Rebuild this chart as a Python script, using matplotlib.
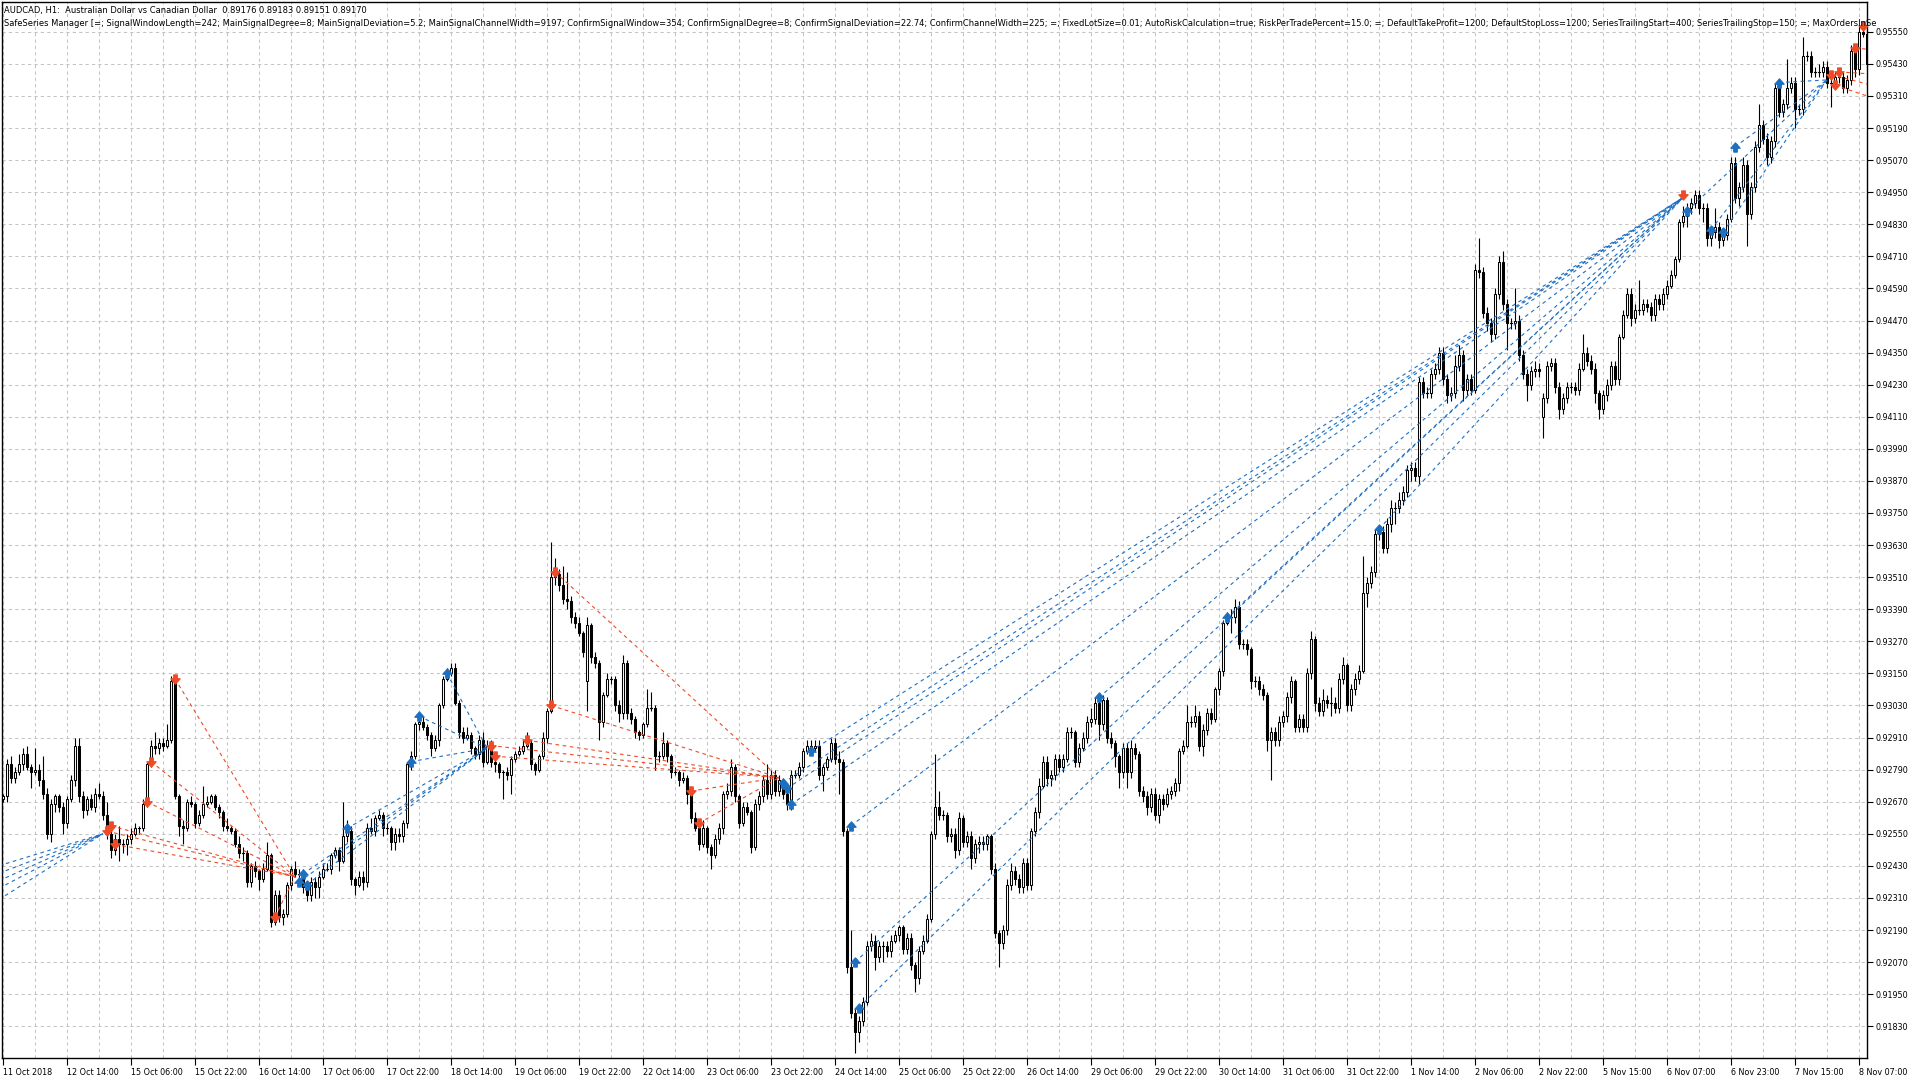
import matplotlib
matplotlib.use("Agg")
import matplotlib.pyplot as plt
from matplotlib.path import Path
from matplotlib.markers import MarkerStyle
from matplotlib import font_manager

# ---------------- text ----------------
symbol_line = "AUDCAD, H1:  Australian Dollar vs Canadian Dollar  0.89176 0.89183 0.89151 0.89170"
expert_line = ("SafeSeries Manager [=; SignalWindowLength=242; MainSignalDegree=8; MainSignalDeviation=5.2; "
               "MainSignalChannelWidth=9197; ConfirmSignalWindow=354; ConfirmSignalDegree=8; "
               "ConfirmSignalDeviation=22.74; ConfirmChannelWidth=225; =; FixedLotSize=0.01; "
               "AutoRiskCalculation=true; RiskPerTradePercent=15.0; =; DefaultTakeProfit=1200; "
               "DefaultStopLoss=1200; SeriesTrailingStart=400; SeriesTrailingStop=150; =; MaxOrdersInSe")

time_labels = ["11 Oct 2018", "12 Oct 14:00", "15 Oct 06:00", "15 Oct 22:00", "16 Oct 14:00",
               "17 Oct 06:00", "17 Oct 22:00", "18 Oct 14:00", "19 Oct 06:00", "19 Oct 22:00",
               "22 Oct 14:00", "23 Oct 06:00", "23 Oct 22:00", "24 Oct 14:00", "25 Oct 06:00",
               "25 Oct 22:00", "26 Oct 14:00", "29 Oct 06:00", "29 Oct 22:00", "30 Oct 14:00",
               "31 Oct 06:00", "31 Oct 22:00", "1 Nov 14:00", "2 Nov 06:00", "2 Nov 22:00",
               "5 Nov 15:00", "6 Nov 07:00", "6 Nov 23:00", "7 Nov 15:00", "8 Nov 07:00"]
time_label_bars = [0, 16, 32, 48, 64, 80, 96, 112, 128, 144, 160, 176, 192, 208, 224,
                   240, 256, 272, 288, 304, 320, 336, 352, 368, 384, 400, 416, 432, 448, 464]

price_labels = ["0.91830", "0.91950", "0.92070", "0.92190", "0.92310", "0.92430", "0.92550", "0.92670",
                "0.92790", "0.92910", "0.93030", "0.93150", "0.93270", "0.93390", "0.93510", "0.93630",
                "0.93750", "0.93870", "0.93990", "0.94110", "0.94230", "0.94350", "0.94470", "0.94590",
                "0.94710", "0.94830", "0.94950", "0.95070", "0.95190", "0.95310", "0.95430", "0.95550"]

# ---------------- candles (prices in pips, 9269 = 0.9269) ----------------
first_open = 9268
weekend_opens = {146: 9312, 385: 9411}
close_pips = [
    9269, 9281, 9276, 9278, 9281, 9285, 9280, 9278, 9279, 9275,
    9270, 9255, 9266, 9269, 9265, 9259, 9268, 9275, 9288, 9269,
    9264, 9268, 9265, 9270, 9269, 9262, 9255, 9249, 9253, 9251,
    9251, 9253, 9255, 9257, 9257, 9266, 9281, 9288, 9287, 9289,
    9288, 9290, 9312, 9269, 9258, 9257, 9267, 9266, 9259, 9262,
    9266, 9267, 9269, 9265, 9263, 9258, 9257, 9256, 9251, 9248,
    9248, 9237, 9243, 9241, 9238, 9242, 9247, 9222, 9232, 9224,
    9225, 9236, 9242, 9240, 9240, 9235, 9232, 9237, 9235, 9239,
    9242, 9242, 9247, 9249, 9245, 9254, 9256, 9238, 9236, 9239,
    9237, 9257, 9256, 9261, 9262, 9257, 9257, 9252, 9255, 9254,
    9259, 9281, 9284, 9296, 9297, 9295, 9292, 9287, 9290, 9303,
    9313, 9315, 9317, 9304, 9293, 9291, 9292, 9287, 9285, 9290,
    9282, 9288, 9282, 9281, 9278, 9278, 9277, 9283, 9285, 9286,
    9288, 9289, 9281, 9279, 9284, 9291, 9301, 9351, 9352, 9348,
    9343, 9342, 9336, 9334, 9330, 9323, 9333, 9321, 9319, 9297,
    9307, 9313, 9313, 9303, 9300, 9319, 9300, 9298, 9293, 9292,
    9296, 9302, 9302, 9284, 9284, 9289, 9284, 9278, 9278, 9275,
    9276, 9270, 9261, 9257, 9251, 9257, 9250, 9247, 9253, 9257,
    9270, 9271, 9280, 9269, 9259, 9265, 9263, 9250, 9266, 9269,
    9275, 9270, 9277, 9271, 9275, 9270, 9266, 9277, 9277, 9280,
    9286, 9288, 9287, 9288, 9277, 9280, 9283, 9289, 9283, 9282,
    9256, 9205, 9188, 9181, 9185, 9192, 9213, 9215, 9209, 9213,
    9213, 9211, 9215, 9217, 9220, 9212, 9216, 9206, 9201, 9211,
    9215, 9223, 9255, 9265, 9262, 9262, 9254, 9255, 9249, 9261,
    9252, 9254, 9246, 9251, 9252, 9251, 9254, 9242, 9218, 9214,
    9219, 9236, 9241, 9238, 9235, 9244, 9236, 9256, 9263, 9273,
    9282, 9276, 9277, 9283, 9280, 9283, 9293, 9293, 9282, 9287,
    9291, 9297, 9298, 9304, 9296, 9305, 9291, 9289, 9284, 9278,
    9287, 9278, 9287, 9285, 9271, 9269, 9265, 9270, 9262, 9268,
    9266, 9270, 9271, 9274, 9286, 9288, 9297, 9297, 9299, 9288,
    9294, 9300, 9298, 9309, 9316, 9334, 9336, 9336, 9340, 9326,
    9326, 9324, 9312, 9312, 9309, 9307, 9290, 9293, 9290, 9297,
    9299, 9306, 9312, 9295, 9298, 9295, 9315, 9328, 9304, 9301,
    9305, 9304, 9304, 9302, 9313, 9318, 9303, 9309, 9313, 9316,
    9345, 9349, 9353, 9367, 9368, 9362, 9371, 9377, 9377, 9380,
    9383, 9391, 9392, 9389, 9424, 9420, 9420, 9427, 9429, 9435,
    9425, 9419, 9420, 9430, 9434, 9421, 9425, 9421, 9466, 9465,
    9450, 9446, 9442, 9457, 9469, 9453, 9446, 9446, 9447, 9434,
    9427, 9423, 9428, 9429, 9428, 9418, 9430, 9431, 9422, 9414,
    9418, 9422, 9422, 9421, 9429, 9435, 9432, 9429, 9420, 9414,
    9419, 9423, 9430, 9425, 9441, 9449, 9457, 9448, 9451, 9451,
    9453, 9452, 9449, 9455, 9453, 9457, 9460, 9464, 9470, 9484,
    9486, 9489, 9491, 9494, 9489, 9489, 9478, 9480, 9482, 9477,
    9479, 9485, 9506, 9493, 9497, 9505, 9487, 9497, 9512, 9520,
    9515, 9508, 9514, 9534, 9525, 9528, 9534, 9536, 9526, 9526,
    9546, 9546, 9540, 9540, 9540, 9542, 9536, 9536, 9538, 9538,
    9534, 9537, 9548, 9541, 9555, 9554, 9543]
upper_wick = [
    1, 2, 3, 2, 4, 2, 3, 1, 8, 2,  9, 2, 2, 1, 1, 2, 1, 2, 3, 3,
    2, 1, 2, 2, 4, 2, 5, 3, 2, 5,  2, 2, 2, 2, 1, 2, 1, 2, 5, 2,
    2, 6, 2, 2, 1, 2, 1, 2, 1, 2,  7, 2, 1, 1, 1, 1, 3, 1, 1, 3,
    2, 1, 1, 2, 1, 2, 5, 1, 2, 2,  2, 1, 1, 3, 2, 2, 2, 2, 2, 2,
    2, 2, 1, 1, 1, 13, 4, 2, 1, 2, 2, 2, 4, 1, 2, 1, 2, 1, 2, 2,
    1, 1, 2, 1, 3, 2, 1, 1, 2, 1,  1, 2, 2, 2, 1, 2, 3, 1, 1, 2,
    3, 2, 2, 2, 1, 1, 2, 1, 1, 2,  2, 4, 1, 1, 1, 2, 1, 13, 6, 2,
    7, 10, 2, 2, 2, 1, 3, 1, 2, 1, 1, 2, 1, 1, 2, 3, 1, 2, 1, 1,
    1, 7, 6, 1, 2, 4, 1, 1, 2, 1,  2, 1, 1, 2, 1, 3, 1, 1, 2, 2,
    1, 3, 3, 1, 1, 2, 2, 1, 2, 2,  2, 6, 2, 2, 2, 1, 1, 2, 2, 2,
    1, 2, 2, 2, 2, 1, 1, 2, 2, 3,  1, 1, 14, 2, 2, 2, 2, 3, 2, 2,
    2, 2, 2, 2, 1, 1, 2, 2, 1, 2,  2, 2, 1, 20, 6, 2, 1, 2, 2, 2,
    1, 2, 2, 2, 2, 2, 1, 1, 2, 1,  2, 2, 3, 2, 2, 2, 2, 1, 2, 3,
    2, 2, 2, 2, 2, 2, 2, 2, 1, 2,  2, 2, 4, 2, 2, 2, 1, 2, 1, 1,
    2, 2, 3, 2, 1, 2, 2, 2, 2, 2,  2, 2, 2, 2, 1, 2, 6, 2, 4, 2,
    2, 2, 2, 1, 1, 1, 2, 3, 3, 2,  2, 2, 1, 2, 2, 2, 1, 2, 2, 2,
    2, 2, 2, 1, 2, 2, 2, 3, 1, 2,  4, 2, 6, 2, 2, 3, 1, 2, 2, 2,
    14, 2, 2, 2, 2, 2, 2, 3, 2, 3, 2, 2, 2, 2, 2, 2, 2, 2, 2, 2,
    2, 2, 2, 4, 4, 2, 2, 2, 2, 12, 2, 2, 2, 2, 2, 4, 2, 2, 12, 2,
    2, 2, 2, 3, 2, 2, 2, 2, 2, 2,  2, 2, 2, 2, 2, 7, 2, 2, 2, 1,
    2, 2, 2, 2, 1, 2, 2, 2, 2, 11, 2, 2, 2, 2, 2, 2, 2, 2, 1, 1,
    4, 2, 2, 2, 2, 2, 2, 2, 7, 2,  2, 2, 2, 2, 2, 3, 2, 2, 2, 8,
    2, 2, 2, 2, 2, 2, 11, 2, 2, 2, 7, 2, 2, 2, 3, 2, 2, 2, 2, 3,
    2, 2, 2, 2, 2, 3, 2]
lower_wick = [
    1, 2, 2, 2, 1, 2, 1, 6, 1, 2,  2, 2, 3, 3, 2, 4, 2, 1, 2, 2,
    3, 2, 1, 2, 1, 2, 2, 3, 2, 6,  3, 4, 2, 1, 2, 1, 1, 1, 2, 2,
    2, 1, 1, 1, 4, 6, 1, 1, 2, 1,  1, 1, 1, 1, 2, 2, 1, 1, 1, 2,
    3, 2, 2, 2, 4, 1, 1, 2, 1, 2,  3, 1, 2, 1, 4, 2, 2, 2, 4, 4,
    1, 1, 2, 1, 4, 1, 2, 2, 4, 1,  3, 2, 1, 2, 1, 3, 2, 3, 3, 2,
    2, 2, 2, 1, 2, 1, 2, 3, 1, 2,  1, 1, 1, 1, 2, 2, 1, 2, 2, 2,
    2, 1, 2, 3, 2, 10, 2, 7, 1, 1, 1, 1, 2, 2, 1, 1, 2, 1, 3, 2,
    2, 3, 2, 2, 1, 2, 11, 2, 2, 7, 2, 1, 2, 2, 3, 2, 2, 2, 2, 2,
    1, 1, 1, 5, 2, 1, 2, 2, 1, 2,  1, 4, 2, 1, 2, 1, 2, 5, 1, 2,
    2, 2, 2, 2, 2, 1, 1, 2, 1, 2,  2, 2, 2, 2, 2, 2, 2, 2, 1, 1,
    2, 1, 1, 1, 2, 6, 1, 1, 2, 12, 2, 2, 2, 8, 4, 2, 1, 2, 5, 2,
    6, 2, 2, 1, 2, 2, 2, 2, 5, 2,  1, 1, 1, 2, 2, 2, 2, 2, 3, 2,
    2, 2, 4, 2, 3, 2, 2, 2, 2, 9,  2, 2, 2, 2, 2, 2, 2, 2, 2, 2,
    1, 3, 3, 2, 2, 2, 1, 2, 2, 2,  1, 2, 2, 2, 6, 2, 2, 2, 4, 6,
    2, 6, 2, 2, 2, 2, 3, 2, 2, 3,  2, 1, 2, 2, 3, 1, 1, 2, 2, 2,
    4, 2, 2, 1, 2, 2, 1, 6, 2, 2,  2, 2, 3, 2, 2, 2, 4, 15, 2, 2,
    2, 2, 2, 2, 2, 2, 2, 2, 3, 2,  2, 2, 5, 2, 2, 2, 2, 2, 2, 2,
    1, 5, 2, 2, 2, 2, 2, 3, 6, 2,  2, 2, 4, 2, 3, 2, 2, 2, 2, 2,
    2, 3, 2, 2, 2, 4, 2, 2, 1, 2,  2, 3, 3, 2, 2, 2, 10, 2, 2, 2,
    2, 6, 2, 2, 2, 8, 2, 2, 2, 4,  2, 2, 2, 2, 2, 1, 2, 2, 4, 4,
    2, 2, 2, 2, 2, 1, 1, 3, 2, 2,  2, 2, 2, 2, 2, 2, 2, 1, 1, 1,
    2, 4, 2, 2, 2, 5, 3, 3, 2, 3,  2, 2, 1, 2, 3, 2, 12, 2, 2, 2,
    2, 3, 2, 2, 2, 2, 2, 2, 7, 2,  2, 2, 2, 2, 2, 2, 2, 9, 2, 2,
    2, 2, 2, 3, 2, 1, 2]

# ---------------- trades (bar index, price in pips) ----------------
buy_open_bars = [-12, -12, -12, -12, -12,
                 74, 75, 76, 86, 102, 104, 111,
                 195, 196, 197, 202, 212, 213, 214, 274, 306, 344,
                 421, 427, 430, 433, 444]
buy_open_pips = [9238, 9234, 9230, 9226, 9220,
                 9237, 9240, 9236, 9257, 9282, 9299, 9315,
                 9274, 9272, 9266, 9286, 9258, 9207, 9190, 9306, 9336, 9369,
                 9488, 9481, 9480, 9512, 9536]
buy_close_bars = [25, 25, 25, 25, 25,
                  121, 121, 121, 121, 121, 121, 121,
                  420, 420, 420, 420, 420, 420, 420, 420, 420, 420,
                  456, 456, 456, 456, 456]
buy_close_pips = [9255, 9255, 9255, 9255, 9255,
                  9287, 9287, 9287, 9287, 9287, 9287, 9287,
                  9493, 9493, 9493, 9493, 9493, 9493, 9493, 9493, 9493, 9493,
                  9537, 9537, 9537, 9537, 9537]

sell_open_bars = [26, 27, 28, 36, 37, 43, 68,
                  122, 123, 131, 137, 138, 172, 174,
                  457, 458, 459, 463]
sell_open_pips = [9256, 9258, 9251, 9267, 9282, 9313, 9224,
                  9288, 9284, 9290, 9303, 9353, 9271, 9259,
                  9539, 9535, 9540, 9549]
sell_close_bars = [73, 73, 73, 73, 73, 73, 73,
                   194, 194, 194, 194, 194, 194, 194,
                   480, 480, 480, 480]
sell_close_pips = [9239, 9239, 9239, 9239, 9239, 9239, 9239,
                   9276, 9276, 9276, 9276, 9276, 9276, 9276,
                   9530, 9524, 9538, 9546]
sell_mark_bars = [420, 465]
sell_mark_pips = [9494, 9557]

# ---------------- style ----------------
BLUE = "#1d6fc2"
RED = "#ef4a26"
GRID = "#c4c4c4"
plt.rcParams["lines.scale_dashes"] = False

names = {f.name for f in font_manager.fontManager.ttflist}
if "Liberation Sans Narrow" in names:
    FONT, STRETCH = "Liberation Sans Narrow", "normal"
else:
    FONT, STRETCH = "DejaVu Sans", "condensed"

W, H = 1920, 1080
L_PX, R_PX, T_PX, B_PX = 2, 1867, 2, 1058
fig = plt.figure(figsize=(W / 100, H / 100), dpi=100)
fig.patch.set_facecolor("white")
ax = fig.add_axes([L_PX / W, 1 - B_PX / H, (R_PX - L_PX) / W, (B_PX - T_PX) / H])


def px_to_price(y):
    return 0.95550 - (y - 31.8) * 0.0012 / 32.08


ax.set_xlim((L_PX - 3) / 4.0, (R_PX - 3) / 4.0)
ax.set_ylim(px_to_price(B_PX), px_to_price(T_PX))

# grid
n = len(close_pips)
for k in range(0, n, 8):
    ax.axvline(k, color=GRID, lw=0.75, ls=(0, (2.3, 2.3)), zorder=0)
for lab in price_labels:
    ax.axhline(float(lab), color=GRID, lw=0.75, ls=(0, (2.3, 2.3)), zorder=0)

# candles
opens = []
prev = first_open
for i, c in enumerate(close_pips):
    o = weekend_opens.get(i, prev)
    opens.append(o)
    prev = c
for i in range(n):
    o = opens[i] / 1e4
    c = close_pips[i] / 1e4
    hi = max(o, c) + upper_wick[i] / 1e4
    lo = min(o, c) - lower_wick[i] / 1e4
    ax.plot([i, i], [lo, hi], color="black", lw=0.8, solid_capstyle="butt", zorder=2)
    if abs(c - o) < 1e-6:
        ax.plot([i - 0.3, i + 0.3], [c, c], color="black", lw=0.8, zorder=3)
    else:
        ax.bar(i, abs(c - o), bottom=min(o, c), width=0.5,
               color="white" if c > o else "black", edgecolor="black",
               linewidth=0.75, zorder=3)

# trade arrows and lines
down = Path([(-0.38, 1), (0.38, 1), (0.38, 0.15), (1, 0.15), (0, -1), (-1, 0.15), (-0.38, 0.15), (-0.38, 1)],
            [Path.MOVETO] + [Path.LINETO] * 6 + [Path.CLOSEPOLY])
up = Path([(x, -y) for x, y in down.vertices], down.codes)

for b0, p0, b1, p1 in zip(buy_open_bars, buy_open_pips, buy_close_bars, buy_close_pips):
    ax.plot([b0, b1], [p0 / 1e4, p1 / 1e4], color=BLUE, lw=0.8, ls=(0, (2.6, 2.6)), zorder=4)
    ax.plot(b0, p0 / 1e4, marker=MarkerStyle(up), ms=6.5, color=BLUE, mec=BLUE, zorder=5)
for b0, p0, b1, p1 in zip(sell_open_bars, sell_open_pips, sell_close_bars, sell_close_pips):
    ax.plot([b0, b1], [p0 / 1e4, p1 / 1e4], color=RED, lw=0.8, ls=(0, (2.6, 2.6)), zorder=4)
    ax.plot(b0, p0 / 1e4, marker=MarkerStyle(down), ms=6.5, color=RED, mec=RED, zorder=5)
for b0, p0 in zip(sell_mark_bars, sell_mark_pips):
    ax.plot(b0, p0 / 1e4, marker=MarkerStyle(down), ms=6.5, color=RED, mec=RED, zorder=5)

# axes and ticks
for s in ax.spines.values():
    s.set_color("black")
    s.set_linewidth(1.0)
fig.canvas.draw()
rend = fig.canvas.get_renderer()
probe = fig.text(0, 0, "0.95550", fontsize=10, family=FONT, stretch=STRETCH)
w10 = probe.get_window_extent(rend).width
probe.remove()
tick_fs = 10 * 33.0 / w10

ax.yaxis.tick_right()
ax.set_yticks([float(v) for v in price_labels])
ax.set_yticklabels(price_labels, fontsize=tick_fs, family=FONT, stretch=STRETCH)
ax.tick_params(axis="y", direction="out", length=4, width=0.8, pad=2, right=True, left=False)
ax.set_xticks(time_label_bars)
ax.set_xticklabels(time_labels, fontsize=tick_fs, family=FONT, stretch=STRETCH)
for lbl in ax.get_xticklabels():
    lbl.set_horizontalalignment("left")
ax.tick_params(axis="x", direction="out", length=5, width=0.8, pad=2)

# header text, second line fitted so it ends just inside the right axis line
x0_px = 4
head_fs = 8.0
t1 = fig.text(x0_px / W, 1 - 10 / H, symbol_line, fontsize=head_fs, family=FONT, stretch=STRETCH,
              va="center", ha="left", zorder=6)
t2 = fig.text(x0_px / W, 1 - 23 / H, expert_line, fontsize=head_fs, family=FONT, stretch=STRETCH,
              va="center", ha="left", zorder=6)
target = (R_PX - 5) - x0_px
for _ in range(4):
    fig.canvas.draw()
    wcur = t2.get_window_extent(fig.canvas.get_renderer()).width
    head_fs *= target / wcur
    t1.set_fontsize(head_fs)
    t2.set_fontsize(head_fs)

fig.savefig("out.png", dpi=100, facecolor="white")
